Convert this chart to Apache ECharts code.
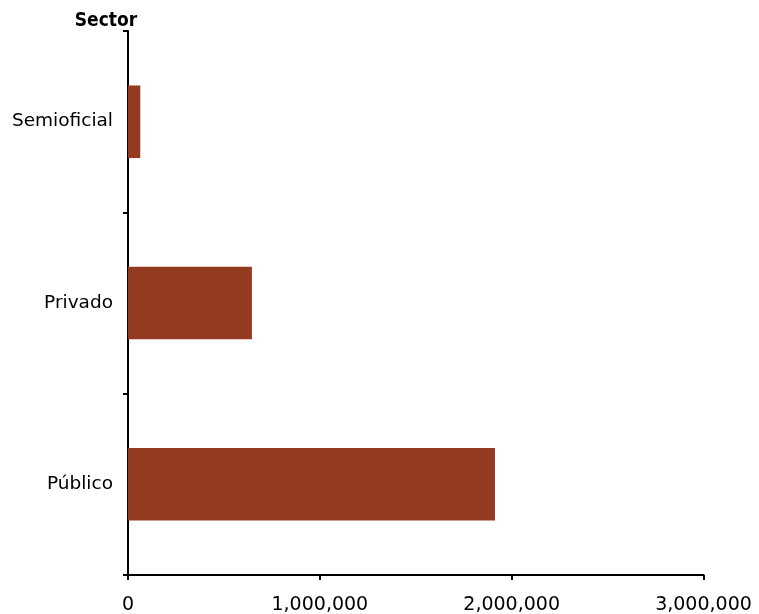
<!DOCTYPE html>
<html><head><meta charset="utf-8">
<script src="https://cdn.jsdelivr.net/npm/echarts@6/dist/echarts.min.js"></script>
<style>html,body{margin:0;padding:0;background:#fff}#c{width:759px;height:614px}</style>
</head><body><div id="c"></div>
<script>
const categories = ['Semioficial', 'Privado', 'Público'];
const values = [64000, 646000, 1913000];
const xTicks = [0, 1000000, 2000000, 3000000];

const chart = echarts.init(document.getElementById('c'), null, {renderer: 'canvas'});
chart.setOption({
  animation: false,
  backgroundColor: '#ffffff',
  grid: {left: 128, top: 31, width: 575.5, height: 544, containLabel: false, outerBoundsMode: 'none'},
  xAxis: {
    type: 'value', min: xTicks[0], max: xTicks[xTicks.length - 1], interval: 1000000,
    axisLine: {show: true, lineStyle: {color: '#000', width: 2}},
    axisTick: {show: true, length: 5, lineStyle: {color: '#000', width: 2}},
    splitLine: {show: false},
    axisLabel: {
      margin: 21, color: '#000', fontFamily: 'DejaVu Sans', fontSize: 19,
      formatter: v => v.toLocaleString('en-US')
    }
  },
  yAxis: {
    type: 'category', data: categories, inverse: true,
    name: 'Sector', nameLocation: 'start', nameGap: 0,
    nameTextStyle: {fontFamily: '"DejaVu Sans Condensed", "DejaVu Sans"', fontWeight: 'bold', fontSize: 19, color: '#000', align: 'center', verticalAlign: 'bottom', padding: [0, 44, 0, 0]},
    axisLine: {show: true, lineStyle: {color: '#000', width: 2}},
    axisTick: {show: true, length: 5, lineStyle: {color: '#000', width: 2}},
    axisLabel: {margin: 15, color: '#000', fontFamily: 'DejaVu Sans', fontSize: 18.5}
  },
  series: [{
    type: 'bar', data: values, barCategoryGap: '60%',
    itemStyle: {color: '#943a20'}
  }]
});
</script></body></html>
